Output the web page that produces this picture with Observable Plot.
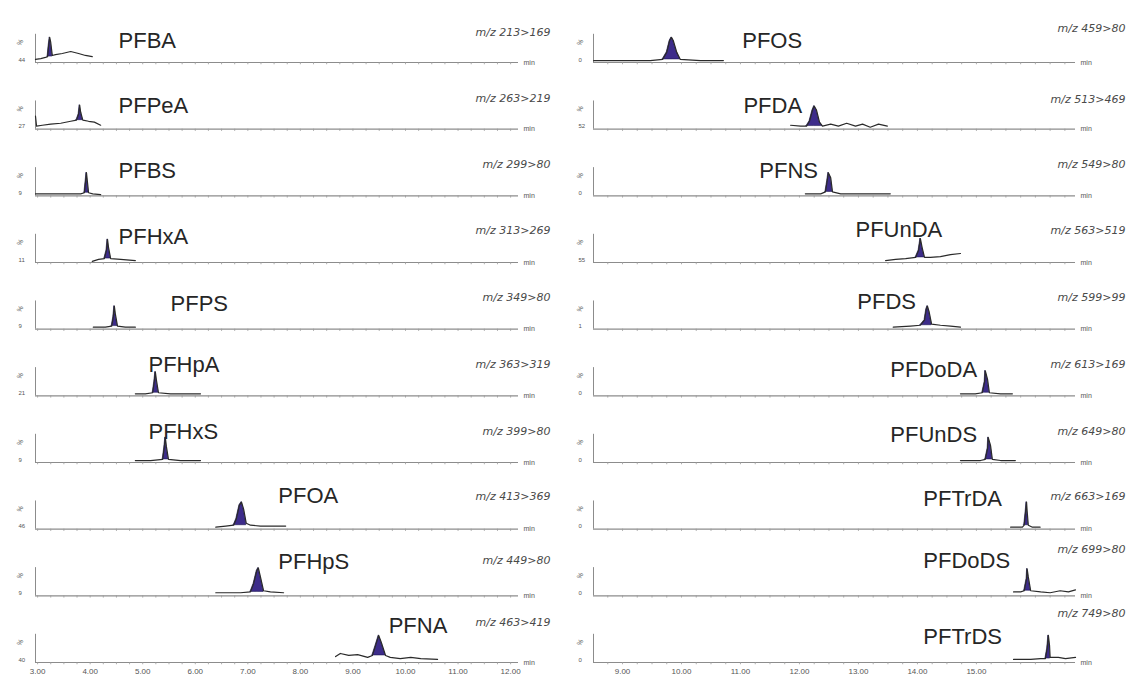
<!DOCTYPE html>
<html><head><meta charset="utf-8">
<script src="https://cdn.jsdelivr.net/npm/d3@7"></script>
<script src="https://cdn.jsdelivr.net/npm/@observablehq/plot@0.6"></script>
<style>
body{margin:0;background:#fff;}
#wrap{display:flex;width:1128px;height:679px;overflow:hidden;background:#fff;}
</style></head><body><div id="wrap"></div>
<script>
// ---------- categories ----------
const namesLeft  = ["PFBA","PFPeA","PFBS","PFHxA","PFPS","PFHpA","PFHxS","PFOA","PFHpS","PFNA"];
const namesRight = ["PFOS","PFDA","PFNS","PFUnDA","PFDS","PFDoDA","PFUnDS","PFTrDA","PFDoDS","PFTrDS"];
const mzLeft  = ["213>169","263>219","299>80","313>269","349>80","363>319","399>80","413>369","449>80","463>419"];
const mzRight = ["459>80","513>469","549>80","563>519","599>99","613>169","649>80","663>169","699>80","749>80"];
const scaleLeft  = ["44","27","9","11","9","21","9","46","9","40"];
const scaleRight = ["0","52","0","55","1","0","0","0","0","0"];
const ticksLeft  = [3,4,5,6,7,8,9,10,11,12];
const ticksRight = [9,10,11,12,13,14,15];

// ---------- traces: [time (min), intensity (%)] ----------
const pfba  = [[2.96,11],[3.06,14],[3.15,18],[3.19,21],[3.21,60],[3.23,89],[3.25,71],[3.28,25],[3.34,28],[3.47,32],[3.63,39],[3.78,32],[3.91,25],[4.04,21]];
const pfpea = [[2.96,46],[2.98,11],[3.09,14],[3.25,18],[3.44,21],[3.63,28],[3.74,32],[3.78,53],[3.80,85],[3.82,60],[3.86,32],[3.97,28],[4.08,25],[4.20,14]];
const pfbs  = [[2.96,7],[3.44,7],[3.82,7],[3.89,11],[3.91,46],[3.93,82],[3.95,46],[3.97,11],[4.05,7],[4.20,4]];
const pfhxa = [[4.04,4],[4.16,11],[4.27,14],[4.31,43],[4.33,82],[4.35,53],[4.39,14],[4.58,11],[4.86,7]];
const pfps  = [[4.06,7],[4.29,7],[4.41,11],[4.44,43],[4.46,82],[4.48,53],[4.52,11],[4.67,7],[4.86,7]];
const pfhpa = [[4.86,7],[5.05,7],[5.19,11],[5.22,50],[5.24,85],[5.26,57],[5.30,11],[5.53,7],[6.10,7]];
const pfhxs = [[4.86,7],[5.15,7],[5.38,11],[5.41,53],[5.43,89],[5.45,57],[5.49,11],[5.72,7],[6.10,7]];
const pfoa  = [[6.39,7],[6.58,11],[6.73,14],[6.78,36],[6.84,85],[6.88,96],[6.92,71],[6.97,21],[7.05,14],[7.24,11],[7.72,11]];
const pfhps = [[6.39,11],[6.86,11],[7.05,14],[7.11,43],[7.17,89],[7.20,99],[7.24,67],[7.30,18],[7.43,14],[7.68,11]];
const pfna  = [[8.67,21],[8.76,32],[8.92,25],[9.09,28],[9.28,18],[9.37,25],[9.43,60],[9.49,96],[9.54,71],[9.62,25],[9.71,18],[9.90,14],[10.10,18],[10.29,14],[10.61,11]];

const pfos   = [[8.51,7],[8.97,7],[9.47,7],[9.68,11],[9.75,36],[9.80,78],[9.83,89],[9.86,78],[9.92,36],[9.98,11],[10.32,7],[10.71,7]];
const pfda   = [[11.85,14],[12.02,11],[12.12,11],[12.17,28],[12.22,67],[12.25,82],[12.29,67],[12.34,25],[12.39,11],[12.53,18],[12.66,11],[12.80,21],[12.95,11],[13.07,18],[13.20,7],[13.34,18],[13.49,11]];
const pfns   = [[12.10,7],[12.36,7],[12.44,14],[12.47,53],[12.49,82],[12.53,64],[12.56,14],[12.70,7],[13.03,7],[13.54,7]];
const pfunda = [[13.46,7],[13.63,11],[13.80,14],[13.97,18],[14.02,43],[14.05,85],[14.08,53],[14.12,18],[14.22,18],[14.39,21],[14.56,28],[14.73,32]];
const pfds   = [[13.59,7],[13.88,11],[14.05,14],[14.12,32],[14.15,71],[14.17,82],[14.20,60],[14.24,18],[14.39,14],[14.56,11],[14.73,7]];
const pfdoda = [[14.73,7],[14.98,7],[15.10,11],[15.14,50],[15.15,89],[15.19,57],[15.22,11],[15.41,7],[15.61,7]];
const pfunds = [[14.73,7],[15.07,7],[15.15,11],[15.19,50],[15.20,89],[15.24,60],[15.27,11],[15.41,7],[15.66,7]];
const pftrda = [[15.58,7],[15.78,7],[15.81,14],[15.83,53],[15.85,96],[15.86,64],[15.88,14],[15.95,7],[16.08,7]];
const pfdods = [[15.63,14],[15.75,14],[15.81,18],[15.85,60],[15.86,96],[15.88,67],[15.92,18],[16.09,14],[16.25,11],[16.42,18],[16.56,14],[16.68,21]];
const pftrds = [[15.63,11],[15.92,11],[16.09,14],[16.17,14],[16.20,50],[16.22,96],[16.24,60],[16.25,18],[16.39,18],[16.51,14],[16.68,18]];

const tracesLeft  = [pfba,pfpea,pfbs,pfhxa,pfps,pfhpa,pfhxs,pfoa,pfhps,pfna];
const tracesRight = [pfos,pfda,pfns,pfunda,pfds,pfdoda,pfunds,pftrda,pfdods,pftrds];

// integrated peak windows (min)
const peakStartLeft  = [3.19,3.74,3.89,4.27,4.41,5.19,5.38,6.73,7.05,9.37];
const peakEndLeft    = [3.28,3.86,3.97,4.39,4.52,5.30,5.49,6.97,7.30,9.62];
const peakStartRight = [9.68,12.12,12.44,13.97,14.05,15.10,15.15,15.81,15.81,16.17];
const peakEndRight   = [9.98,12.39,12.56,14.12,14.24,15.22,15.27,15.88,15.92,16.25];

// ---------- layout (label placement, in chart units) ----------
const layoutLeft = {
  nameTime: [4.54,4.54,4.54,4.54,5.53,5.11,5.11,7.58,7.58,9.68],
  nameLevel: [78,82,89,89,89,110,110,117,121,131],
  mzLevel: [108,110,113,113,113,113,110,117,124,142],
  domain: [2.96,12.15], ml: 35, mr: 46, mzDx: 32, pctDx: -17
};
const layoutRight = {
  nameTime: [11.03,11.05,11.32,12.95,12.98,13.54,13.54,14.10,14.10,14.10],
  nameLevel: [78,82,89,115,96,92,96,106,124,89],
  mzLevel: [120,106,113,113,113,113,110,117,165,174],
  domain: [8.508,16.68], ml: 29, mr: 53, mzDx: 50, pctDx: -15
};

const ROW = 236.4;      // vertical spacing between stacked traces (intensity units)
const TOP = 2347.5;     // top of the intensity scale

function panel(names, traces, ps, pe, mz, scl, ticks, L) {
  const off = names.map((n, i) => (names.length - 1 - i) * ROW);
  const rows = [], peaks = [], minorRows = [];
  traces.forEach((tr, i) => tr.forEach(([t, v]) => rows.push({name: names[i], t, y: v + off[i]})));
  traces.forEach((tr, i) => {
    const pts = tr.filter(([t]) => t >= ps[i] - 1e-9 && t <= pe[i] + 1e-9);
    const base = d3.min(pts, d => d[1]);
    pts.forEach(([t, v]) => peaks.push({name: names[i], t, y: v + off[i], b: base + off[i]}));
  });
  const minor = d3.range(Math.ceil(L.domain[0] * 4) / 4, L.domain[1], 0.25);
  off.forEach(o => minor.forEach(t => minorRows.push({t, o})));
  const labels = names.map((n, i) => ({name: n, o: off[i], nt: L.nameTime[i], nl: L.nameLevel[i] + off[i], mz: "m/z " + mz[i], ml: L.mzLevel[i] + off[i], off: scl[i]}));
  return Plot.plot({
    width: 564, height: 679, marginTop: 0, marginBottom: 17, marginLeft: L.ml, marginRight: L.mr,
    x: {domain: L.domain, ticks, tickFormat: d => d.toFixed(2), tickSize: 0, tickPadding: 6, label: null},
    y: {domain: [0, TOP], axis: null},
    style: {fontFamily: "'Liberation Sans', Arial, sans-serif", fontSize: "8px", color: "#555", background: "#fff"},
    marks: [
      Plot.ruleY(off, {stroke: "#8c8c8c", strokeWidth: 1.2}),
      Plot.ruleX(minorRows, {x: "t", y1: "o", y2: d => d.o - 8, stroke: "#9a9a9a", strokeWidth: 0.8}),
      Plot.ruleX(labels, {x: L.domain[0], y1: "o", y2: d => d.o + 100, stroke: "#8c8c8c", strokeWidth: 1}),
      Plot.areaY(peaks, {x: "t", y1: "b", y2: "y", z: "name", fill: "#3d2c8a", stroke: "#1d1650", strokeWidth: 0.6}),
      Plot.line(rows, {x: "t", y: "y", z: "name", stroke: "#2a2a2a", strokeWidth: 1.2}),
      Plot.text(labels, {x: "nt", y: "nl", text: "name", textAnchor: "start", fontSize: 22, fill: "#262626"}),
      Plot.text(labels, {y: "ml", text: "mz", frameAnchor: "right", dx: L.mzDx, textAnchor: "end", fontFamily: "'DejaVu Sans', sans-serif", fontStyle: "italic", fontSize: 11, letterSpacing: 1.5, fill: "#4a4a4a"}),
      Plot.text(labels, {y: "o", frameAnchor: "right", dx: 5, textAnchor: "start", text: () => "min", fontSize: 7, fill: "#555"}),
      Plot.text(labels, {y: d => d.o + 62, frameAnchor: "left", dx: L.pctDx, text: () => "%", rotate: -60, fontSize: 7, fill: "#555"}),
      Plot.text(labels, {y: d => d.o + 10, frameAnchor: "left", dx: L.pctDx, text: "off", fontSize: 6, fill: "#555"})
    ]
  });
}

const wrap = document.getElementById("wrap");
wrap.append(
  panel(namesLeft, tracesLeft, peakStartLeft, peakEndLeft, mzLeft, scaleLeft, ticksLeft, layoutLeft),
  panel(namesRight, tracesRight, peakStartRight, peakEndRight, mzRight, scaleRight, ticksRight, layoutRight)
);
</script>
</body></html>
